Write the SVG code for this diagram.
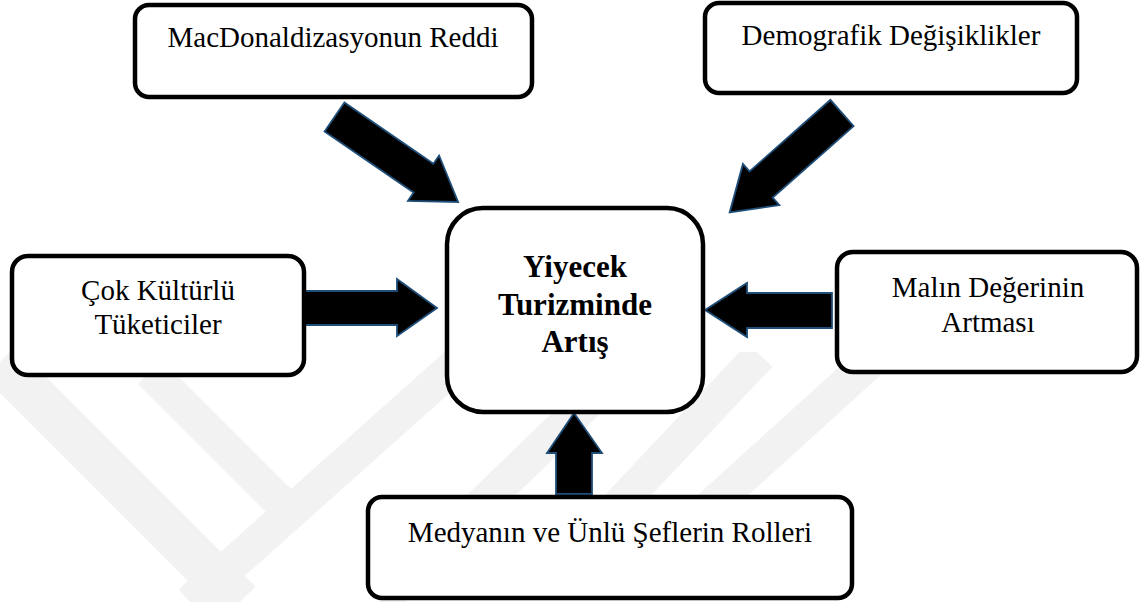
<svg xmlns="http://www.w3.org/2000/svg" width="1144" height="602" viewBox="0 0 1144 602">
  <defs>
    <style>
      .box { fill: #ffffff; stroke: #000000; stroke-width: 4.5; }
      .lbl { font-family: "Liberation Serif", "Times New Roman", serif; font-size: 29px; fill: #000000; text-anchor: middle; }
      .main { font-family: "Liberation Serif", "Times New Roman", serif; font-size: 31px; font-weight: bold; fill: #000000; text-anchor: middle; }
      .arrow { fill: #000000; stroke: #1f4e79; stroke-width: 1.8; stroke-linejoin: miter; }
      .wm { fill: none; stroke: #f2f2f2; stroke-linecap: butt; }
    </style>
    <clipPath id="wmclip"><rect x="0" y="352" width="1144" height="250"/></clipPath>
    <polygon id="diag" points="0,-17.5 108,-17.5 108,-27.5 150,0 108,27.5 108,17.5 0,17.5"/>
  </defs>
  <rect x="0" y="0" width="1144" height="602" fill="#ffffff"/>

  <g id="watermark" clip-path="url(#wmclip)">
    <path class="wm" stroke-width="44" d="M0,362 L240,602"/>
    <path class="wm" stroke-width="34" d="M150,372 L300,522"/>
    <path class="wm" stroke-width="34" d="M190,602 L470,352"/>
    <path class="wm" stroke-width="34" d="M380,602 L640,352"/>
    <path class="wm" stroke-width="34" d="M600,525 L760,355"/>
    <path class="wm" stroke-width="34" d="M690,525 L870,362"/>
  </g>

  <g id="connectors">
    <use href="#diag" class="arrow" transform="translate(334.5,117) rotate(34.5)"/>
    <use href="#diag" class="arrow" transform="translate(842,113) rotate(138.5)"/>
    <polygon class="arrow" points="302,291 397,291 397,279 437,308 397,336 397,325 302,325"/>
    <polygon class="arrow" points="832,293 747,293 747,283 705,310 747,337 747,328 832,328"/>
    <polygon class="arrow" points="556,494 556,453 547,453 574,413 602,453 592,453 592,494"/>
  </g>

  <g id="node-macdonald">
    <rect class="box" x="135" y="5" width="397" height="92" rx="14"/>
    <text class="lbl" x="333" y="47">MacDonaldizasyonun Reddi</text>
  </g>

  <g id="node-demografik">
    <rect class="box" x="705" y="3" width="372" height="90" rx="14"/>
    <text class="lbl" x="891" y="45">Demografik Değişiklikler</text>
  </g>

  <g id="node-cok">
    <rect class="box" x="12" y="256" width="292" height="119" rx="16"/>
    <text class="lbl" x="158" y="300">Çok Kültürlü</text>
    <text class="lbl" x="158" y="334">Tüketiciler</text>
  </g>

  <g id="node-center">
    <rect class="box" x="447" y="208" width="256" height="204" rx="36"/>
    <text class="main" x="575" y="277">Yiyecek</text>
    <text class="main" x="575" y="315">Turizminde</text>
    <text class="main" x="575" y="352">Artış</text>
  </g>

  <g id="node-malin">
    <rect class="box" x="837" y="252" width="300" height="120" rx="16"/>
    <text class="lbl" x="988" y="297">Malın Değerinin</text>
    <text class="lbl" x="988" y="332">Artması</text>
  </g>

  <g id="node-medya">
    <rect class="box" x="368" y="497" width="484" height="101" rx="14"/>
    <text class="lbl" x="610" y="542">Medyanın ve Ünlü Şeflerin Rolleri</text>
  </g>
</svg>
